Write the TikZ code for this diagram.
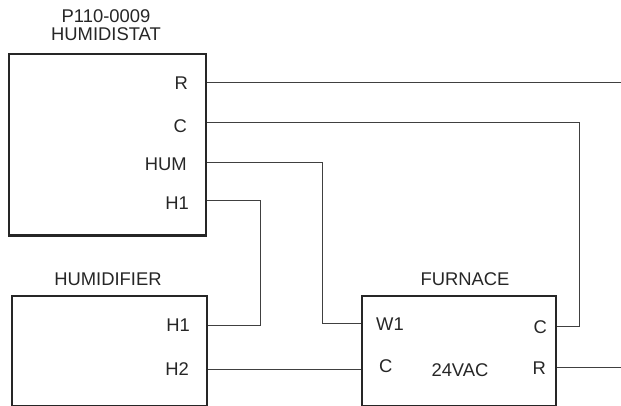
\documentclass[tikz,border=0pt]{standalone}
\usepackage{fontspec}
\setmainfont{Liberation Sans}
\tikzset{
  box/.style={draw, line width=2.2pt, color=black!85, anchor=north west, inner sep=0pt},
  wire/.style={line width=1pt, color=black!75},
  lab/.style={font=\fontsize{18.4}{18}\selectfont, color=black!85, inner sep=0pt, align=center}
}
\begin{document}
\begin{tikzpicture}[x=1pt,y=-1pt]
\useasboundingbox (0,0) rectangle (621,406);
% boxes
\node[box, minimum width=197pt, minimum height=181.5pt] (humidistat) at (7.5,53) {};
\node[box, minimum width=195.5pt, minimum height=109.5pt] (humidifier) at (10.5,295) {};
\node[box, minimum width=194pt, minimum height=109.5pt] (furnace) at (361,295) {};
% titles
\node[lab] (title) at (106,25) {P110-0009\\HUMIDISTAT};
\node[lab] (humidifiertitle) at (108,279) {HUMIDIFIER};
\node[lab] (furnacetitle) at (465,279) {FURNACE};
% terminals
\node[lab, anchor=east] (r) at (188,83) {R};
\node[lab, anchor=east] (c) at (187,126) {C};
\node[lab, anchor=east] (hum) at (187,164) {HUM};
\node[lab, anchor=east] (h1) at (189,203) {H1};
\node[lab, anchor=east] (ah1) at (190,325) {H1};
\node[lab, anchor=east] (ah2) at (189,369) {H2};
\node[lab, anchor=west] (w1) at (376,324) {W1};
\node[lab, anchor=west] (fc) at (379,366) {C};
\node[lab] (vac) at (460,370) {24VAC};
\node[lab, anchor=east] (fc2) at (547,327) {C};
\node[lab, anchor=east] (fr) at (546,368) {R};
% wires
\coordinate (rend) at (621,83);
\coordinate (frend) at (621,367);
\draw[wire] (humidistat.east |- r) -- (rend);
\draw[wire] (humidistat.east |- 0,123) -| (579,326) -- (furnace.east |- 0,326);
\draw[wire] (humidistat.east |- 0,163) -| (322,323) -- (furnace.west |- 0,323);
\draw[wire] (humidistat.east |- 0,201) -| (260,325.5) -- (humidifier.east |- 0,325.5);
\draw[wire] (humidifier.east |- 0,369.5) -- (furnace.west |- 0,369.5);
\draw[wire] (furnace.east |- 0,367) -- (frend);
\end{tikzpicture}
\end{document}
